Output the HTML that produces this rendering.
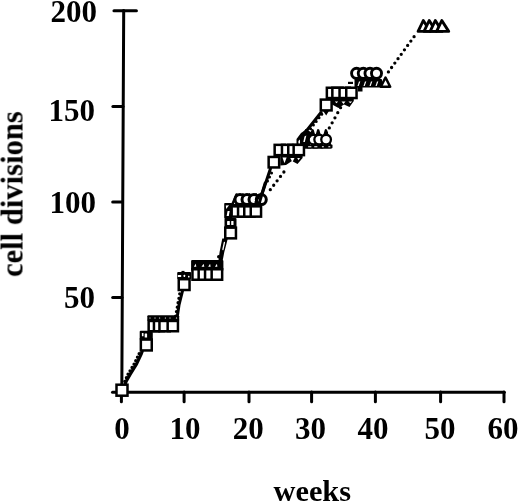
<!DOCTYPE html>
<html><head><meta charset="utf-8"><style>
html,body{margin:0;padding:0;background:#fff;width:520px;height:503px;overflow:hidden}
svg{display:block;will-change:transform}
text{font-family:"Liberation Serif",serif;font-weight:bold;fill:#000}
</style></head><body>
<svg width="520" height="503" viewBox="0 0 520 503">
<defs><filter id="b" x="-2%" y="-2%" width="104%" height="104%"><feGaussianBlur stdDeviation="0.35"/></filter></defs>
<rect width="520" height="503" fill="#fff"/>
<g filter="url(#b)">
<g stroke="#000" stroke-width="3.0" stroke-linecap="round" fill="none">
<path d="M123.7 10.5 L121.8 392.5"/>
<path d="M114 10.8 H136.4" stroke-width="3.1"/>
<path d="M112.9 106.4 H123"/>
<path d="M112.7 202.1 H122.5"/>
<path d="M112.7 297.6 H122"/>
<path d="M112.5 392.3 H504.3"/>
<path d="M121.4 392 V401.8"/>
<path d="M184.1 392 V401.8"/>
<path d="M249 392 V401.8"/>
<path d="M311.6 392 V401.8"/>
<path d="M375.4 392 V401.8"/>
<path d="M440.6 392 V401.8"/>
<path d="M504 392 V401.8"/>
</g>
<g font-size="31" text-anchor="end">
<text x="97" y="22">200</text>
<text x="95" y="121">150</text>
<text x="96" y="212.5">100</text>
<text x="95" y="308">50</text>
</g>
<g font-size="31" text-anchor="middle">
<text x="121.9" y="439">0</text>
<text x="185" y="439">10</text>
<text x="248.3" y="439">20</text>
<text x="310.6" y="439">30</text>
<text x="373" y="439">40</text>
<text x="440.1" y="439">50</text>
<text x="503" y="439">60</text>
</g>
<text font-size="30.3" text-anchor="middle" x="312.3" y="501.3">weeks</text>
<text font-size="30.6" text-anchor="middle" transform="translate(22.5 194.2) rotate(-90)">cell divisions</text>

<path d="M125.40 383.50 L126.20 381.30 L130.10 374.40 L136.60 363.90 L141.40 353.50 L142.20 351.50" stroke="#000" stroke-width="3.2" fill="none" stroke-linecap="round" stroke-linejoin="round"/>
<path d="M124.8 381.3 L127.9 374.4 L134.2 363.9 L139.2 353.5" stroke="#000" stroke-width="3.3" fill="none" stroke-linecap="round" stroke-dasharray="0 3.9"/>
<path d="M177.50 315.00 L179.00 305.00 L182.50 291.00" stroke="#000" stroke-width="3.0" fill="none" stroke-linecap="round" stroke-linejoin="round"/>
<path d="M175.60 316.00 L180.20 291.00" stroke="#000" stroke-width="3.2" fill="none" stroke-linecap="round" stroke-dasharray="0 4.5"/>
<path d="M222.3 238.5 L227.8 238.5 L226.4 244 L224.3 252 L222.6 261 L218.4 261 L219.6 252 L221.2 244 Z" fill="#000"/>
<path d="M224.4 242.5 L222.9 249.5" stroke="#fff" stroke-width="1.3" stroke-linecap="round"/>
<circle cx="218.8" cy="256.8" r="1.8" fill="#000"/>
<path d="M261.50 195.50 L270.50 168.50" stroke="#000" stroke-width="3.0" fill="none" stroke-linecap="round" stroke-linejoin="round"/>
<path d="M267.50 181.00 L273.50 169.00" stroke="#000" stroke-width="3.0" fill="none" stroke-linecap="round" stroke-dasharray="0 4.5"/>
<path d="M270.30 189.70 L284.20 171.60" stroke="#000" stroke-width="3.3" fill="none" stroke-linecap="round" stroke-dasharray="0 5.58"/>
<path d="M302.00 136.50 L321.00 112.50" stroke="#000" stroke-width="3.0" fill="none" stroke-linecap="round" stroke-linejoin="round"/>
<path d="M305.00 136.00 L323.50 112.00" stroke="#000" stroke-width="3.0" fill="none" stroke-linecap="round" stroke-dasharray="0 4.6"/>
<path d="M326.50 133.00 L341.50 106.00" stroke="#000" stroke-width="3.3" fill="none" stroke-linecap="round" stroke-dasharray="0 5.8"/>
<path d="M388.40 71.90 L414.40 36.20" stroke="#000" stroke-width="3.3" fill="none" stroke-linecap="round" stroke-dasharray="0 5.45"/>
<rect x="116.50" y="384.70" width="11.00" height="11.00" fill="#fff" stroke="#000" stroke-width="2.5"/>
<rect x="139.70" y="330.70" width="13.10" height="9.30" rx="1.0" fill="#000"/>
<rect x="141.90" y="333.00" width="1.60" height="3.30" rx="0.5" fill="#fff"/>
<rect x="144.70" y="333.50" width="2.40" height="4.00" rx="0.5" fill="#fff"/>
<rect x="140.85" y="339.55" width="10.90" height="10.90" fill="#fff" stroke="#000" stroke-width="2.5"/>
<rect x="147.30" y="315.30" width="31.90" height="5.70" rx="1.0" fill="#000"/>
<rect x="149.40" y="317.60" width="1.20" height="1.00" rx="0.3" fill="#fff"/>
<rect x="154.40" y="317.60" width="1.20" height="1.00" rx="0.3" fill="#fff"/>
<rect x="159.00" y="317.60" width="1.20" height="1.00" rx="0.3" fill="#fff"/>
<rect x="164.80" y="317.60" width="1.20" height="1.00" rx="0.3" fill="#fff"/>
<rect x="169.40" y="317.60" width="1.20" height="1.00" rx="0.3" fill="#fff"/>
<rect x="175.90" y="317.60" width="1.20" height="1.00" rx="0.3" fill="#fff"/>
<rect x="148.65" y="320.95" width="10.30" height="10.30" fill="#fff" stroke="#000" stroke-width="2.5"/>
<rect x="153.95" y="320.95" width="10.30" height="10.30" fill="#fff" stroke="#000" stroke-width="2.5"/>
<rect x="159.45" y="320.95" width="10.30" height="10.30" fill="#fff" stroke="#000" stroke-width="2.5"/>
<rect x="167.65" y="320.95" width="10.30" height="10.30" fill="#fff" stroke="#000" stroke-width="2.5"/>
<rect x="177.20" y="272.10" width="13.90" height="6.90" rx="1.0" fill="#000"/>
<rect x="181.5" y="270.9" width="3" height="2" fill="#000"/>
<rect x="177.80" y="275.10" width="3.40" height="1.80" rx="0.5" fill="#fff"/>
<rect x="183.60" y="274.80" width="1.50" height="2.30" rx="0.5" fill="#fff"/>
<rect x="188.00" y="275.80" width="1.50" height="1.60" rx="0.5" fill="#fff"/>
<rect x="178.75" y="279.20" width="10.80" height="10.80" fill="#fff" stroke="#000" stroke-width="2.5"/>
<rect x="191.10" y="260.10" width="32.30" height="10.90" rx="1.0" fill="#000"/>
<polygon points="195.75,263.80 196.30,266.80 193.80,266.80" fill="#fff"/>
<polygon points="203.60,263.80 204.30,266.80 201.50,266.80" fill="#fff"/>
<polygon points="210.10,263.80 210.60,266.80 208.20,266.80" fill="#fff"/>
<polygon points="216.90,263.80 217.40,266.80 215.00,266.80" fill="#fff"/>
<rect x="192.45" y="269.25" width="10.50" height="10.50" fill="#fff" stroke="#000" stroke-width="2.5"/>
<rect x="198.65" y="269.25" width="10.50" height="10.50" fill="#fff" stroke="#000" stroke-width="2.5"/>
<rect x="205.05" y="269.25" width="10.50" height="10.50" fill="#fff" stroke="#000" stroke-width="2.5"/>
<rect x="211.65" y="269.25" width="10.50" height="10.50" fill="#fff" stroke="#000" stroke-width="2.5"/>
<rect x="224.50" y="218.00" width="12.00" height="12.00" rx="1.0" fill="#000"/>
<rect x="227.10" y="221.00" width="2.70" height="4.00" rx="0.5" fill="#fff"/>
<rect x="231.20" y="221.00" width="2.30" height="4.00" rx="0.5" fill="#fff"/>
<rect x="225.25" y="227.65" width="10.70" height="10.70" fill="#fff" stroke="#000" stroke-width="2.5"/>
<polygon points="236.50,194.50 241.00,205.25 232.00,205.25" fill="#fff" stroke="#000" stroke-width="2.5" stroke-linejoin="round"/>
<polygon points="243.00,194.50 247.50,205.25 238.50,205.25" fill="#fff" stroke="#000" stroke-width="2.5" stroke-linejoin="round"/>
<polygon points="249.50,194.50 254.00,205.25 245.00,205.25" fill="#fff" stroke="#000" stroke-width="2.5" stroke-linejoin="round"/>
<polygon points="256.00,194.50 260.50,205.25 251.50,205.25" fill="#fff" stroke="#000" stroke-width="2.5" stroke-linejoin="round"/>
<circle cx="240.00" cy="199.60" r="5.00" fill="#fff" stroke="#000" stroke-width="3.0"/>
<circle cx="247.00" cy="199.60" r="5.00" fill="#fff" stroke="#000" stroke-width="3.0"/>
<circle cx="254.00" cy="199.60" r="5.00" fill="#fff" stroke="#000" stroke-width="3.0"/>
<circle cx="261.30" cy="199.60" r="5.00" fill="#fff" stroke="#000" stroke-width="3.0"/>
<path d="M265.20 183.00 L262.50 192.00 L259.30 203.00" stroke="#000" stroke-width="3.0" fill="none" stroke-linecap="round" stroke-linejoin="round"/>
<path d="M262.00 192.50 L255.50 202.00" stroke="#000" stroke-width="2.2" fill="none" stroke-linecap="round" stroke-linejoin="round"/>
<rect x="231.65" y="206.35" width="10.30" height="10.30" fill="#fff" stroke="#000" stroke-width="2.5"/>
<rect x="238.05" y="206.35" width="10.30" height="10.30" fill="#fff" stroke="#000" stroke-width="2.5"/>
<rect x="244.25" y="206.35" width="10.30" height="10.30" fill="#fff" stroke="#000" stroke-width="2.5"/>
<rect x="250.75" y="206.35" width="10.30" height="10.30" fill="#fff" stroke="#000" stroke-width="2.5"/>
<rect x="224.20" y="203.00" width="8.00" height="15.60" rx="0.8" fill="#000"/>
<polygon points="225.80,205.40 229.00,205.20 226.20,209.00" fill="#fff"/>
<polygon points="227.60,211.00 229.70,211.00 228.80,215.90 226.60,215.90" fill="#fff"/>
<rect x="268.65" y="156.95" width="10.50" height="10.50" fill="#fff" stroke="#000" stroke-width="2.5"/>
<polygon points="280.30,155.00 302.60,155.00 302.60,158.00 297.50,164.00 292.00,161.00 286.00,165.00 280.30,165.50" fill="#000"/>
<polygon points="282.50,157.60 286.60,157.60 284.50,163.20" fill="#fff"/>
<polygon points="290.30,158.00 294.50,158.00 292.40,162.20" fill="#fff"/>
<polygon points="297.20,158.00 300.00,158.00 298.60,160.30" fill="#fff"/>
<polygon points="306.10,130.40 310.80,147.15 301.40,147.15" fill="#fff" stroke="#000" stroke-width="2.5" stroke-linejoin="round"/>
<polygon points="312.60,130.40 317.30,147.15 307.90,147.15" fill="#fff" stroke="#000" stroke-width="2.5" stroke-linejoin="round"/>
<polygon points="318.20,130.40 322.90,147.15 313.50,147.15" fill="#fff" stroke="#000" stroke-width="2.5" stroke-linejoin="round"/>
<polygon points="325.90,130.40 330.60,147.15 321.20,147.15" fill="#fff" stroke="#000" stroke-width="2.5" stroke-linejoin="round"/>
<circle cx="313.50" cy="139.60" r="4.85" fill="#fff" stroke="#000" stroke-width="2.3"/>
<circle cx="319.20" cy="139.60" r="4.85" fill="#fff" stroke="#000" stroke-width="2.3"/>
<circle cx="326.10" cy="139.60" r="4.85" fill="#fff" stroke="#000" stroke-width="2.3"/>
<polygon points="296.50,148.50 296.50,139.00 301.00,133.00 306.00,129.50 311.00,132.00 311.50,136.00 309.50,139.00 309.00,146.00 307.00,148.50" fill="#000"/>
<polygon points="298.40,141.00 300.00,139.50 300.00,144.00 298.40,144.00" fill="#fff"/>
<polygon points="304.50,136.50 306.30,135.50 304.80,142.00 303.30,142.00" fill="#fff"/>
<rect x="306.50" y="144.60" width="26.00" height="3.80" rx="0.8" fill="#000"/>
<rect x="308.10" y="146.20" width="3.30" height="1.10" rx="0.3" fill="#fff"/>
<rect x="314.20" y="146.20" width="3.20" height="1.10" rx="0.3" fill="#fff"/>
<rect x="321.90" y="146.20" width="2.00" height="1.10" rx="0.3" fill="#fff"/>
<rect x="328.30" y="146.20" width="2.00" height="1.10" rx="0.3" fill="#fff"/>
<rect x="274.65" y="144.85" width="10.30" height="10.30" fill="#fff" stroke="#000" stroke-width="2.5"/>
<rect x="281.95" y="144.85" width="10.30" height="10.30" fill="#fff" stroke="#000" stroke-width="2.5"/>
<rect x="288.25" y="144.85" width="10.30" height="10.30" fill="#fff" stroke="#000" stroke-width="2.5"/>
<rect x="293.65" y="144.85" width="10.30" height="10.30" fill="#fff" stroke="#000" stroke-width="2.5"/>
<polygon points="322.50,110.00 329.50,110.00 326.20,115.60" fill="#000"/>
<rect x="320.80" y="99.60" width="10.80" height="10.80" fill="#fff" stroke="#000" stroke-width="2.5"/>
<polygon points="331.00,98.50 353.80,98.50 353.80,101.00 349.50,107.00 344.00,104.50 338.50,108.00 333.00,105.00 331.00,104.00" fill="#000"/>
<polygon points="334.80,101.50 338.20,101.50 336.50,103.20" fill="#fff"/>
<polygon points="341.50,101.50 345.50,101.50 343.50,104.00" fill="#fff"/>
<polygon points="348.50,101.50 352.20,101.50 350.30,103.30" fill="#fff"/>
<rect x="326.85" y="87.75" width="10.30" height="10.30" fill="#fff" stroke="#000" stroke-width="2.5"/>
<rect x="332.35" y="87.75" width="10.30" height="10.30" fill="#fff" stroke="#000" stroke-width="2.5"/>
<rect x="339.55" y="87.75" width="10.30" height="10.30" fill="#fff" stroke="#000" stroke-width="2.5"/>
<rect x="346.25" y="87.75" width="10.30" height="10.30" fill="#fff" stroke="#000" stroke-width="2.5"/>
<rect x="358" y="86.5" width="4.5" height="5" fill="#000"/>
<rect x="354.50" y="79.00" width="27.50" height="8.60" rx="0.8" fill="#000"/>
<polygon points="357.50,86.00 359.00,81.50 360.30,81.50 358.70,86.00" fill="#fff"/>
<polygon points="363.50,86.00 365.00,81.50 366.30,81.50 364.70,86.00" fill="#fff"/>
<polygon points="369.50,86.00 371.00,81.50 372.30,81.50 370.70,86.00" fill="#fff"/>
<polygon points="375.50,86.00 377.00,81.50 378.30,81.50 376.70,86.00" fill="#fff"/>
<polygon points="385.50,77.50 390.20,86.75 380.80,86.75" fill="#fff" stroke="#000" stroke-width="2.5" stroke-linejoin="round"/>
<rect x="348" y="81.8" width="5" height="2.2" fill="#000"/>
<circle cx="356.60" cy="73.30" r="5.05" fill="#fff" stroke="#000" stroke-width="2.9"/>
<circle cx="363.30" cy="73.30" r="5.05" fill="#fff" stroke="#000" stroke-width="2.9"/>
<circle cx="370.00" cy="73.30" r="5.05" fill="#fff" stroke="#000" stroke-width="2.9"/>
<circle cx="376.50" cy="73.30" r="5.05" fill="#fff" stroke="#000" stroke-width="2.9"/>
<polygon points="423.30,20.5 430.20,31.4 418.10,31.4" fill="#fff" stroke="#000" stroke-width="2.9" stroke-linejoin="round"/>
<polygon points="429.20,20.5 436.10,31.4 424.00,31.4" fill="#fff" stroke="#000" stroke-width="2.9" stroke-linejoin="round"/>
<polygon points="435.30,20.5 442.20,31.4 430.10,31.4" fill="#fff" stroke="#000" stroke-width="2.9" stroke-linejoin="round"/>
<polygon points="441.80,20.5 448.70,31.4 436.60,31.4" fill="#fff" stroke="#000" stroke-width="2.9" stroke-linejoin="round"/>
</g></svg>
</body></html>
